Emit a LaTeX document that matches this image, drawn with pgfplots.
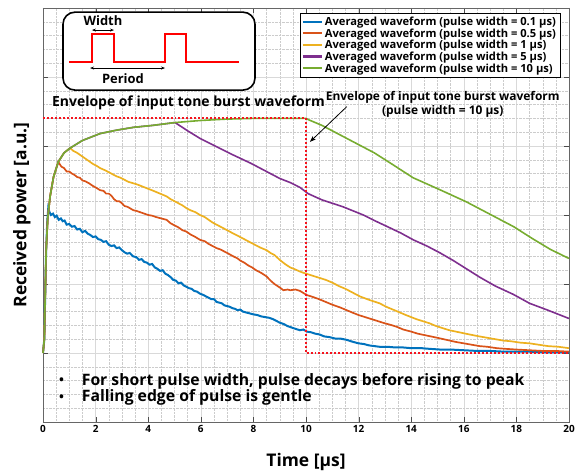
\documentclass[border=0pt]{standalone}
\usepackage{pgfplots}
\pgfplotsset{compat=1.18}
\usepackage{fontspec}
\setmainfont{Open Sans}
\usetikzlibrary{arrows.meta}
\definecolor{mBlue}{RGB}{0,114,189}
\definecolor{mRed}{RGB}{217,83,25}
\definecolor{mYel}{RGB}{237,177,32}
\definecolor{mPur}{RGB}{126,47,142}
\definecolor{mGrn}{RGB}{119,172,48}
\definecolor{envRed}{RGB}{245,20,30}

\begin{document}
\begin{tikzpicture}
\begin{axis}[
    scale only axis,
    width=526bp, height=414bp,
    xmin=0, xmax=20, ymin=-1, ymax=5,
    xtick={0,2,...,20}, ytick={-1,0,...,5}, yticklabels={},
    minor x tick num=3, minor y tick num=4,
    grid=both,
    major grid style={gray!30, line width=0.5pt},
    minor grid style={gray!40, densely dotted, line width=0.4pt},
    tick align=inside,
    major tick length=5bp, minor tick length=0pt,
    tick style={black!70},
    axis line style={black!60},
    xticklabel style={font=\bfseries\fontsize{10}{12}\selectfont},
    /pgf/number format/assume math mode=true,
    xlabel={Time [µs]},
    ylabel={Received power [a.u.]},
    label style={font=\bfseries\fontsize{17.5}{20}\selectfont},
    xlabel style={at={(axis description cs:0.5,-0.097)}, anchor=center},
    ylabel style={at={(axis description cs:-0.040,0.5)}, anchor=center},
    clip=false,
    legend style={at={(rel axis cs:0.983,0.988)}, anchor=north east,
        font=\bfseries\fontsize{11.2}{12.5}\selectfont, draw=black,
        fill=white, inner sep=2pt, row sep=-2.4pt, cells={anchor=west}},
    legend image code/.code={\draw[#1,line width=2.2pt] (0bp,0.5bp) -- (19bp,0.5bp);},
]
\coordinate (bl) at (rel axis cs:0,0);
\coordinate (tr) at (rel axis cs:1,1);

% pulse width = 0.1 us
\addplot[mBlue, line width=2pt] coordinates {
(0,0) (0.05,0.2) (0.08,0.77) (0.12,1.49) (0.16,1.9) (0.2,2.10) (0.25,2.04) (0.3,2.0)
(0.38,2.02) (0.45,1.97) (0.52,1.99) (0.6,1.93) (0.68,1.95) (0.75,1.91) (0.82,1.92)
(0.9,1.86) (1.0,1.87) (1.1,1.83) (1.2,1.84) (1.3,1.79) (1.4,1.80) (1.5,1.75) (1.6,1.77)
(1.7,1.73) (1.8,1.71) (1.9,1.68) (2.0,1.69) (2.1,1.65) (2.2,1.64) (2.3,1.61) (2.4,1.62)
(2.5,1.57) (2.6,1.55) (2.7,1.56) (2.8,1.52) (2.9,1.53) (3.0,1.49) (3.1,1.46) (3.2,1.44)
(3.3,1.45) (3.43,1.40) (3.55,1.39) (3.65,1.35) (3.75,1.36) (3.85,1.32) (3.95,1.31)
(4.05,1.28) (4.15,1.29) (4.25,1.24) (4.35,1.22) (4.45,1.19) (4.55,1.20) (4.65,1.15)
(4.75,1.13) (4.85,1.10) (4.95,1.06) (5.05,1.05) (5.15,1.01) (5.25,1.02) (5.35,0.98)
(5.45,0.96) (5.55,0.94) (5.65,0.93) (5.75,0.90) (5.85,0.89) (5.97,0.86) (6.1,0.84)
(6.2,0.82) (6.3,0.80) (6.4,0.78) (6.5,0.78) (6.6,0.74) (6.7,0.73) (6.8,0.72) (6.9,0.69)
(7.0,0.68) (7.1,0.67) (7.2,0.65) (7.3,0.64) (7.4,0.62) (7.5,0.63) (7.6,0.60) (7.7,0.59)
(7.8,0.58) (7.9,0.57) (8.0,0.56) (8.15,0.55) (8.3,0.53) (8.45,0.52) (8.6,0.51) (8.75,0.49)
(8.9,0.46) (9.0,0.44) (9.15,0.42) (9.3,0.39) (9.45,0.37) (9.6,0.35) (9.77,0.33) (9.9,0.34)
(10.03,0.31) (10.2,0.30) (10.35,0.28) (10.5,0.27) (10.7,0.24) (10.9,0.23) (11.1,0.21)
(11.3,0.21) (11.55,0.19) (11.8,0.16) (12.0,0.14) (12.2,0.13) (12.4,0.11) (12.6,0.10)
(12.8,0.09) (13.1,0.09) (13.4,0.08) (13.7,0.08) (14.0,0.07) (14.4,0.07) (14.7,0.06)
(15.1,0.05) (15.5,0.05) (16.0,0.04) (16.5,0.03) (17.0,0.03) (17.5,0.02) (18.0,0.02)
(18.5,0.02) (19.0,0.01) (19.5,0.01) (20,0.01)
};
\addlegendentry{Averaged waveform (pulse width = 0.1 µs)}

% pulse width = 0.5 us
\addplot[mRed, line width=1.7pt] coordinates {
(0,0) (0.05,0.2) (0.08,0.77) (0.12,1.49) (0.18,1.95) (0.27,2.27) (0.4,2.55) (0.58,2.77)
(0.7,2.70) (0.8,2.68) (0.9,2.63) (1.0,2.63) (1.1,2.60) (1.2,2.58) (1.3,2.55) (1.4,2.54)
(1.5,2.50) (1.6,2.49) (1.75,2.46) (1.9,2.42) (2.0,2.40) (2.17,2.36) (2.3,2.35) (2.4,2.31)
(2.5,2.31) (2.6,2.28) (2.7,2.23) (2.8,2.20) (2.9,2.20) (3.0,2.17) (3.1,2.13) (3.2,2.12)
(3.3,2.10) (3.43,2.07) (3.55,2.06) (3.7,2.04) (3.85,2.02) (4.0,2.00) (4.15,1.99)
(4.3,1.97) (4.5,1.95) (4.7,1.93) (4.85,1.88) (5.0,1.85) (5.15,1.82) (5.3,1.78) (5.45,1.76)
(5.6,1.72) (5.8,1.68) (5.97,1.64) (6.15,1.62) (6.3,1.58) (6.45,1.55) (6.6,1.52) (6.75,1.50)
(6.9,1.47) (7.05,1.44) (7.24,1.40) (7.4,1.37) (7.5,1.34) (7.65,1.31) (7.8,1.27) (7.95,1.24)
(8.1,1.20) (8.3,1.16) (8.5,1.11) (8.65,1.05) (8.8,1.00) (9.0,0.95) (9.14,0.91) (9.3,0.92)
(9.4,0.91) (9.6,0.92) (9.77,0.90) (9.9,0.87) (10.03,0.84) (10.2,0.82) (10.5,0.78)
(10.75,0.74) (11.0,0.70) (11.3,0.66) (11.55,0.62) (11.8,0.58) (12.0,0.55) (12.25,0.52)
(12.5,0.49) (12.75,0.46) (13.0,0.43) (13.2,0.41) (13.45,0.38) (13.7,0.34) (14.0,0.31)
(14.25,0.28) (14.5,0.26) (14.75,0.24) (15.0,0.22) (15.35,0.19) (15.7,0.16) (16.0,0.14)
(16.3,0.12) (16.6,0.10) (16.9,0.09) (17.25,0.07) (17.6,0.06) (18.0,0.05) (18.5,0.04)
(19.0,0.03) (19.5,0.03) (20,0.02)
};
\addlegendentry{Averaged waveform (pulse width = 0.5 µs)}

% pulse width = 1 us
\addplot[mYel, line width=1.7pt] coordinates {
(0,0) (0.05,0.2) (0.08,0.77) (0.12,1.49) (0.18,1.95) (0.27,2.27) (0.4,2.55) (0.58,2.77)
(0.8,2.90) (1.03,2.97) (1.15,2.93) (1.3,2.90) (1.45,2.86) (1.6,2.82) (1.75,2.78) (1.9,2.74)
(2.05,2.71) (2.17,2.68) (2.35,2.65) (2.5,2.62) (2.65,2.59) (2.8,2.56) (2.95,2.54) (3.1,2.51)
(3.25,2.48) (3.43,2.46) (3.6,2.44) (3.8,2.41) (4.0,2.38) (4.2,2.35) (4.45,2.31) (4.7,2.27)
(4.85,2.23) (5.0,2.20) (5.15,2.17) (5.3,2.14) (5.45,2.10) (5.6,2.07) (5.8,2.04) (5.97,2.00)
(6.15,1.97) (6.3,1.93) (6.45,1.89) (6.6,1.86) (6.75,1.83) (6.9,1.80) (7.05,1.77) (7.24,1.73)
(7.4,1.70) (7.6,1.66) (7.8,1.62) (8.0,1.58) (8.25,1.53) (8.5,1.49) (8.65,1.45) (8.8,1.42)
(9.0,1.35) (9.2,1.29) (9.4,1.24) (9.6,1.21) (9.77,1.18) (10.0,1.15) (10.25,1.12)
(10.5,1.09) (10.75,1.06) (11.0,1.02) (11.25,0.97) (11.5,0.93) (11.8,0.87) (12.05,0.82)
(12.4,0.77) (12.8,0.72) (13.05,0.67) (13.3,0.63) (13.55,0.59) (13.8,0.55) (14.0,0.52)
(14.2,0.49) (14.45,0.46) (14.7,0.43) (14.95,0.39) (15.2,0.36) (15.45,0.33) (15.7,0.31)
(15.95,0.29) (16.2,0.27) (16.6,0.24) (16.9,0.22) (17.2,0.20) (17.5,0.18) (17.8,0.17)
(18.15,0.15) (18.5,0.14) (18.85,0.12) (19.2,0.10) (19.6,0.09) (20,0.07)
};
\addlegendentry{Averaged waveform (pulse width = 1 µs)}

% pulse width = 5 us
\addplot[mPur, line width=1.6pt] coordinates {
(0,0) (0.05,0.2) (0.08,0.77) (0.12,1.49) (0.18,1.95) (0.27,2.27) (0.4,2.55) (0.58,2.77)
(0.8,2.90) (1.03,2.97) (1.5,3.08) (2.17,3.18) (2.8,3.23) (3.43,3.27) (4.2,3.30) (5.02,3.34)
(5.5,3.22) (5.97,3.11) (6.6,2.99) (7.23,2.87) (7.9,2.75) (8.5,2.63) (9.0,2.53) (9.4,2.47)
(9.77,2.40) (10.08,2.31) (10.6,2.22) (11.4,2.12) (12.18,2.00) (12.6,1.92) (13.1,1.83)
(13.6,1.74) (14.08,1.64) (14.6,1.55) (15.1,1.45) (15.6,1.34) (16.1,1.22) (16.6,1.10)
(17.2,0.97) (17.88,0.85) (18.5,0.72) (19.2,0.62) (19.6,0.56) (20,0.50)
};
\addlegendentry{Averaged waveform (pulse width = 5 µs)}

% pulse width = 10 us
\addplot[mGrn, line width=1.6pt] coordinates {
(0,0) (0.05,0.2) (0.08,0.77) (0.12,1.49) (0.18,1.95) (0.27,2.27) (0.4,2.55) (0.58,2.77)
(0.8,2.90) (1.03,2.97) (1.5,3.08) (2.17,3.18) (2.8,3.23) (3.43,3.27) (4.2,3.30) (5.02,3.34)
(6,3.37) (7,3.39) (8,3.40) (9,3.40) (10,3.40) (10.1,3.38) (10.6,3.30) (11.3,3.16)
(12.05,3.01) (12.6,2.90) (13.3,2.73) (14.07,2.54) (14.6,2.45) (15.3,2.33) (16.1,2.19)
(16.9,2.03) (17.9,1.83) (18.6,1.66) (19.3,1.50) (20,1.37)
};
\addlegendentry{Averaged waveform (pulse width = 10 µs)}

% envelope of input tone burst
\addplot[envRed, line width=2pt, dash pattern=on 2pt off 2pt, forget plot] coordinates {
(0,3.40) (10,3.40) (10,0) (20,0)
};

\node[anchor=west, inner sep=0pt, font=\bfseries\fontsize{14}{16}\selectfont]
    at (axis cs:0.34,3.63) {Envelope of input tone burst waveform};
\node[align=center, inner sep=0pt, font=\bfseries\fontsize{12}{14}\selectfont]
    at (axis cs:15.2,3.61) {Envelope of input tone burst waveform\\(pulse width = 10 µs)};
\draw[-{Stealth[length=6bp]}, line width=0.8pt] (axis cs:11.55,3.57) -- (axis cs:10.15,3.06);

\node[inner sep=0pt, font=\bfseries\fontsize{13}{16}\selectfont] at (axis cs:0.71,-0.41) {•};
\node[inner sep=0pt, font=\bfseries\fontsize{13}{16}\selectfont] at (axis cs:0.71,-0.65) {•};
\node[anchor=west, inner sep=0pt, font=\bfseries\fontsize{15.8}{18}\selectfont]
    at (axis cs:1.47,-0.41) {For short pulse width, pulse decays before rising to peak};
\node[anchor=west, inner sep=0pt, font=\bfseries\fontsize{15.8}{18}\selectfont]
    at (axis cs:1.47,-0.65) {Falling edge of pulse is gentle};

% inset schematic
\draw[black, line width=1.6pt, rounded corners=12bp, fill=white]
    (axis cs:0.76,3.81) rectangle (axis cs:8.06,4.94);
\draw[red, line width=2pt] (axis cs:0.99,4.22) -- (axis cs:1.86,4.22) -- (axis cs:1.86,4.63)
    -- (axis cs:2.70,4.63) -- (axis cs:2.70,4.22) -- (axis cs:4.64,4.22) -- (axis cs:4.64,4.63)
    -- (axis cs:5.44,4.63) -- (axis cs:5.44,4.22) -- (axis cs:7.45,4.22);
\draw[{Stealth[length=4bp]}-{Stealth[length=4bp]}, line width=0.8pt]
    (axis cs:1.86,4.68) -- (axis cs:2.70,4.68);
\draw[{Stealth[length=4bp]}-{Stealth[length=4bp]}, line width=0.8pt]
    (axis cs:1.79,4.13) -- (axis cs:4.64,4.13);
\node[font=\bfseries\fontsize{13}{15}\selectfont] at (axis cs:2.28,4.81) {Width};
\node[font=\bfseries\fontsize{13}{15}\selectfont] at (axis cs:3.04,3.98) {Period};
\end{axis}
\pgfresetboundingbox
\path[use as bounding box] (bl) ++(-43bp,-51bp) rectangle ([xshift=15bp,yshift=8bp]tr);
\end{tikzpicture}
\end{document}
